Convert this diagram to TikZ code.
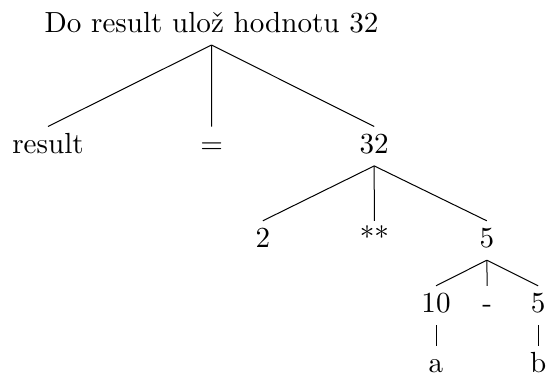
\documentclass[tikz,border=0pt]{standalone}
\usepackage{fontspec}
\setmainfont{lmroman10-regular}[Extension=.otf]
\begin{document}
\begin{tikzpicture}[x=1pt,y=-1pt,
  tn/.style={anchor=base,inner xsep=2pt,inner ysep=6pt,text height=20.5pt,text depth=6.5pt,font=\fontsize{29.1pt}{35pt}\selectfont},
  leaf/.style={tn,text depth=0pt,inner ysep=0pt,text height=26.5pt},
  edge/.style={line width=1pt}]
\useasboundingbox (0,0) rectangle (548,376);
\node[tn] (root) at (211.5,32.3) {Do result ulož hodnotu 32};
\node[tn] (result) at (48,153.2) {result};
\node[tn] (eq) at (211.7,153.2) {=};
\node[tn] (n32) at (374.2,153.2) {32};
\node[tn] (two) at (262.8,247.5) {2};
\node[tn] (pow) at (374.3,247.5) {**};
\node[tn] (five) at (486.8,247.5) {5};
\node[tn] (ten) at (436,312.5) {10};
\node[tn] (minus) at (487.2,312.5) {-};
\node[tn] (fiveb) at (538.2,312.5) {5};
\node[leaf] (a) at (436,372.7) {a};
\node[leaf] (b) at (538.2,372.7) {b};
\draw[edge] (root.south) -- (result.north);
\draw[edge] (root.south) -- (eq.north);
\draw[edge] (root.south) -- (n32.north);
\draw[edge] (n32.south) -- (two.north);
\draw[edge] (n32.south) -- (pow.north);
\draw[edge] (n32.south) -- (five.north);
\draw[edge] (five.south) -- (ten.north);
\draw[edge] (five.south) -- (minus.north);
\draw[edge] (five.south) -- (fiveb.north);
\draw[edge] (ten.south) -- (a.north);
\draw[edge] (fiveb.south) -- (b.north);
\end{tikzpicture}
\end{document}
